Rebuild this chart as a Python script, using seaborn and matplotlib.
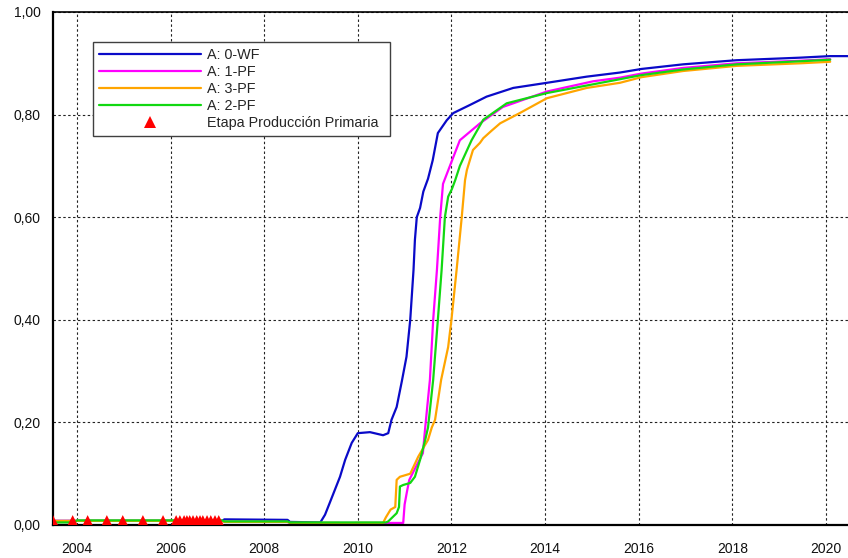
import matplotlib
matplotlib.use("Agg")
import matplotlib.pyplot as plt
from matplotlib.lines import Line2D
from matplotlib.ticker import FuncFormatter, MultipleLocator
import numpy as np
import pandas as pd
import seaborn as sns

# Recovery factor curves per scenario (year, fraction)
wf0_x = [2003.49, 2007.10, 2007.15, 2008.50, 2008.55, 2009.20, 2009.30, 2009.40, 2009.62, 2009.73,
         2009.87, 2010.00, 2010.26, 2010.54, 2010.65, 2010.72, 2010.83, 2010.94, 2011.04, 2011.12,
         2011.19, 2011.22, 2011.26, 2011.33, 2011.40, 2011.50, 2011.60, 2011.71, 2011.90, 2012.04,
         2012.40, 2012.75, 2013.32, 2014.04, 2014.89, 2015.60, 2016.06, 2016.95, 2018.09, 2019.45,
         2020.09, 2020.47]
wf0_y = [0.008, 0.008, 0.011, 0.010, 0.006, 0.005, 0.020, 0.043, 0.094, 0.127,
         0.160, 0.179, 0.181, 0.175, 0.179, 0.205, 0.230, 0.280, 0.328, 0.400,
         0.497, 0.556, 0.600, 0.618, 0.650, 0.675, 0.711, 0.764, 0.789, 0.803,
         0.819, 0.835, 0.852, 0.862, 0.874, 0.882, 0.889, 0.898, 0.906, 0.911,
         0.914, 0.914]

pf1_x = [2003.49, 2007.10, 2007.15, 2008.50, 2008.55, 2010.97, 2011.00, 2011.05, 2011.10, 2011.25,
         2011.39, 2011.44, 2011.54, 2011.61, 2011.69, 2011.76, 2011.82, 2012.01, 2012.18, 2012.61,
         2013.10, 2014.04, 2015.03, 2015.60, 2016.06, 2016.95, 2018.09, 2019.45, 2020.09]
pf1_y = [0.008, 0.008, 0.006, 0.006, 0.004, 0.004, 0.040, 0.065, 0.088, 0.115,
         0.140, 0.190, 0.283, 0.400, 0.497, 0.600, 0.665, 0.710, 0.750, 0.783,
         0.815, 0.845, 0.865, 0.872, 0.880, 0.891, 0.900, 0.905, 0.908]

pf3_x = [2003.49, 2007.10, 2007.15, 2008.50, 2008.55, 2009.60, 2009.65, 2009.90, 2009.95, 2010.54,
         2010.60, 2010.70, 2010.80, 2010.83, 2010.90, 2011.12, 2011.29, 2011.50, 2011.58, 2011.65,
         2011.78, 2011.93, 2012.00, 2012.11, 2012.22, 2012.29, 2012.33, 2012.46, 2012.61, 2012.68,
         2012.85, 2013.04, 2013.46, 2014.04, 2014.89, 2015.60, 2016.06, 2016.95, 2018.09, 2019.45,
         2020.09]
pf3_y = [0.008, 0.008, 0.006, 0.006, 0.004, 0.004, 0.002, 0.002, 0.004, 0.004,
         0.015, 0.030, 0.035, 0.088, 0.094, 0.100, 0.133, 0.166, 0.190, 0.205,
         0.283, 0.347, 0.400, 0.497, 0.600, 0.672, 0.692, 0.731, 0.745, 0.754,
         0.768, 0.783, 0.803, 0.832, 0.852, 0.862, 0.873, 0.885, 0.895, 0.900,
         0.903]

pf2_x = [2003.49, 2003.95, 2004.00, 2007.10, 2007.15, 2008.50, 2008.55, 2010.60, 2010.65, 2010.83,
         2010.88, 2010.90, 2010.97, 2011.12, 2011.22, 2011.33, 2011.44, 2011.50, 2011.61, 2011.71,
         2011.79, 2011.86, 2011.93, 2012.01, 2012.08, 2012.18, 2012.43, 2012.68, 2013.18, 2014.04,
         2015.60, 2016.06, 2016.95, 2018.09, 2019.45, 2020.09]
pf2_y = [0.005, 0.005, 0.009, 0.009, 0.007, 0.007, 0.005, 0.005, 0.007, 0.023,
         0.035, 0.075, 0.078, 0.082, 0.094, 0.127, 0.166, 0.190, 0.283, 0.400,
         0.497, 0.600, 0.640, 0.655, 0.672, 0.700, 0.750, 0.790, 0.822, 0.842,
         0.869, 0.877, 0.888, 0.898, 0.904, 0.907]

# Primary production stage events
prim_x = [2003.49, 2003.91, 2004.23, 2004.64, 2004.98, 2005.41, 2005.84, 2006.12, 2006.20, 2006.29,
          2006.35, 2006.41, 2006.48, 2006.56, 2006.63, 2006.69, 2006.78, 2006.86, 2006.95, 2007.03]
prim_y = [0.008] * len(prim_x)

series_names = ["A: 0-WF", "A: 1-PF", "A: 3-PF", "A: 2-PF"]
series_colors = ["#0a0ac8", "#ff00ff", "#ffa500", "#11d811"]
marker_label = "Etapa Producción Primaria"

x_ticks = [2004, 2006, 2008, 2010, 2012, 2014, 2016, 2018, 2020]

frames = []
for name, xs, ys in zip(series_names, [wf0_x, pf1_x, pf3_x, pf2_x], [wf0_y, pf1_y, pf3_y, pf2_y]):
    frames.append(pd.DataFrame({"Año": xs, "FR": ys, "Serie": name}))
df = pd.concat(frames, ignore_index=True)
palette = dict(zip(series_names, series_colors))
events = pd.DataFrame({"Año": prim_x, "FR": prim_y})

sns.set_style("white")
plt.rcParams["font.family"] = ["Liberation Sans", "DejaVu Sans"]
plt.rcParams["font.size"] = 10

fig = plt.figure(figsize=(8.48, 5.58), dpi=100)
ax = fig.add_axes([53 / 848, 33 / 558, 795 / 848, 513 / 558])

# draw order: green last so it sits on top of the flat baseline
for name in series_names:
    sub = df[df["Serie"] == name]
    sns.lineplot(data=sub, x="Año", y="FR", color=palette[name], lw=1.6,
                 estimator=None, sort=False, ax=ax, legend=False)

sns.scatterplot(data=events, x="Año", y="FR", marker="^", s=70, color="#ff0000",
                edgecolor="none", ax=ax, legend=False, zorder=5)

ax.set_xlim(2003.49, 2020.47)
ax.set_ylim(0, 1.0)
ax.set_xticks(x_ticks)
ax.yaxis.set_major_locator(MultipleLocator(0.2))
ax.yaxis.set_major_formatter(FuncFormatter(lambda v, p: f"{v:.2f}".replace(".", ",")))
ax.set_xlabel("")
ax.set_ylabel("")

ax.grid(True, color="#222222", lw=0.8, linestyle=(0, (2.2, 2.2)))
ax.set_axisbelow(True)

for side in ["left", "bottom"]:
    ax.spines[side].set_linewidth(1.6)
    ax.spines[side].set_color("black")
ax.spines["top"].set_linewidth(1.2)
ax.spines["top"].set_color("black")
ax.spines["right"].set_visible(False)

ax.tick_params(axis="both", direction="out", length=6, width=1.6, color="black",
               labelsize=10, labelcolor="#111111", pad=3)
ax.tick_params(axis="x", length=7, pad=5)

handles = [Line2D([], [], color=c, lw=1.6) for c in series_colors]
handles.append(Line2D([], [], color="#ff0000", marker="^", linestyle="none", markersize=8,
                      markeredgewidth=0))
leg = ax.legend(handles, series_names + [marker_label], loc="upper left",
                bbox_to_anchor=(0.0503, 0.7563, 0.3736, 0.1852), mode="expand",
                borderaxespad=0, fancybox=False, framealpha=1, edgecolor="#404040",
                handlelength=7.1, handletextpad=0.42, labelspacing=0.22, borderpad=0.4,
                fontsize=10.4, numpoints=1)
leg.get_frame().set_linewidth(1.0)

fig.savefig("out.png", dpi=100)
